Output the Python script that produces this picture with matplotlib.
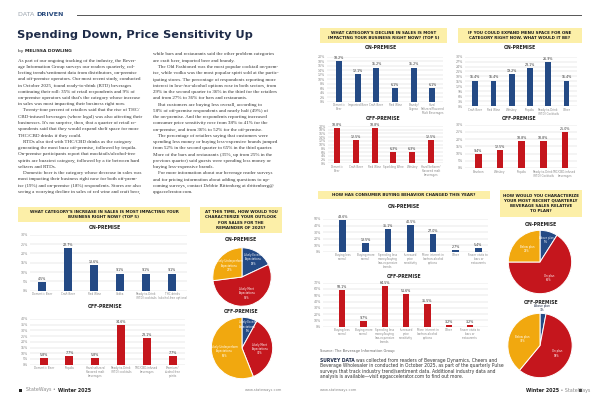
import numpy as np
import matplotlib.pyplot as plt
from matplotlib.patches import Rectangle

W, H = 600, 403
NAVY = '#244a85'
RED = '#c5161d'
GOLD = '#f1a80f'
BOX = '#fcefa8'
INK = '#1e2b48'

# --- chart data -------------------------------------------------------------
# category whose increase in sales is most impacting business (top 5)
inc_on_cats = ['Domestic Beer', 'Craft Beer', 'Red Wine', 'Vodka',
               'Ready-to-Drink\n(RTD) cocktails', 'THC drinks\n(alcohol-free options)']
inc_on_vals = [4.5, 22.7, 13.6, 9.1, 9.1, 9.1]
inc_off_cats = ['Domestic Beer', 'Tequila', 'Hard seltzers/\nflavored malt\nbeverages',
                'Ready-to-Drink\n(RTD) cocktails', 'THC/CBD-infused\nbeverages',
                'Premium/\nalcohol-free\nspirits']
inc_off_vals = [5.8, 7.7, 5.8, 34.6, 23.1, 7.7]

# category whose decline in sales is most impacting business (top 5)
dec_on_cats = ['Domestic\nBeer', 'Imported Beer', 'Craft Beer', 'Red Wine',
               'Brandy/\nCognac', 'Hard\nSeltzers/Flavored\nMalt Beverages']
dec_on_vals = [18.2, 12.1, 15.2, 6.1, 15.2, 6.1]
dec_off_cats = ['Domestic\nBeer', 'Craft Beer', 'Red Wine', 'Sparkling Wine',
                'Whiskey', 'Hard Seltzers/\nflavored malt\nbeverages']
dec_off_vals = [18.8, 12.5, 18.8, 6.3, 6.3, 12.5]

# expand menu space for one category
exp_on_cats = ['Craft Beer', 'Red Wine', 'Whiskey', 'Tequila',
               'Ready-to-Drink\n(RTD) Cocktails', 'Other']
exp_on_vals = [15.4, 15.4, 19.2, 23.1, 26.9, 15.4]
exp_off_cats = ['Bourbon', 'Whiskey', 'Tequila', 'Ready-to-Drink\n(RTD) Cocktails',
                'THC/CBD-infused\nbeverages']
exp_off_vals = [9.4, 12.5, 18.8, 18.8, 25.0]

# consumer buying behavior this year
beh_cats = ['Buying less\noverall', 'Buying more\noverall',
            'Spending less\nmoney/buying\nless-expensive\nbrands',
            'Increased\nprice\nsensitivity', 'More interest in\nlow/non-alcohol\noptions',
            'Other', 'Fewer visits to\nbars or\nrestaurants']
beh_on_vals = [48.6, 13.5, 35.1, 40.5, 27.0, 2.7, 5.4]
beh_off_vals = [58.1, 9.7, 64.5, 51.6, 35.5, 3.2, 3.2]

# pies
outlook_names = ['Likely Exceed\nExpectations', 'Likely Meet\nExpectations',
                 'Likely Underperform\nExpectations']
outlook_on = [18, 55, 27]
outlook_off = [8, 36, 56]
plan_names = ['Above plan', 'On plan', 'Below plan']
plan_on = [9, 66, 25]
plan_off = [3, 58, 39]

# --- article text -----------------------------------------------------------
left_col = [
    "As part of our ongoing tracking of the industry, the Bever-",
    "age Information Group surveys our readers quarterly, col-",
    "lecting trends/sentiment data from distributors, on-premise",
    "and off-premise operators. Our most recent study, conducted",
    "in October 2025, found ready-to-drink (RTD) beverages",
    "continuing their roll: 35% of retail respondents and 9% of",
    "on-premise operators said that's the category whose increase",
    "in sales was most impacting their business right now.",
    "    Twenty-four percent of retailers said that the rise of THC/",
    "CBD-infused beverages (where legal) was also affecting their",
    "businesses. It's no surprise, then, that a quarter of retail re-",
    "spondents said that they would expand shelf space for more",
    "THC/CBD drinks if they could.",
    "    RTDs also tied with THC/CBD drinks as the category",
    "generating the most buzz off-premise, followed by tequila.",
    "On-premise participants report that mocktails/alcohol-free",
    "spirits are buzziest category, followed by a tie between hard",
    "seltzers and RTDs.",
    "    Domestic beer is the category whose decrease in sales was",
    "most impacting their business right now for both off-prem-",
    "ise (19%) and on-premise (18%) respondents. Stores are also",
    "seeing a worrying decline in sales of red wine and craft beer,",
]
right_col = [
    "while bars and restaurants said the other problem categories",
    "are craft beer, imported beer and brandy.",
    "    The Old Fashioned was the most popular cocktail on-prem-",
    "ise, while vodka was the most popular spirit sold at the partic-",
    "ipating stores. The percentage of respondents reporting more",
    "interest in low-/no-alcohol options rose in both sectors, from",
    "29% in the second quarter to 36% in the third for the retailers",
    "and from 27% to 36% for bars and restaurants.",
    "    But customers are buying less overall, according to",
    "58% of off-premise respondents and nearly half (49%) of",
    "the on-premise. And the respondents reporting increased",
    "consumer price sensitivity rose from 38% to 41% for the",
    "on-premise, and from 36% to 52% for the off-premise.",
    "    The percentage of retailers saying that customers were",
    "spending less money or buying less-expensive brands jumped",
    "from 52% in the second quarter to 65% in the third quarter.",
    "More of the bars and restaurants (35%, up from 25% in the",
    "previous quarter) said guests were spending less money or",
    "buying less-expensive brands.",
    "    For more information about our beverage reader surveys",
    "and for pricing information about adding questions to up-",
    "coming surveys, contact Debbie Rittenberg at drittenberg@",
    "epgaccelerator.com.",
]
survey_lines = [
    "was collected from readers of Beverage Dynamics, Cheers and",
    "Beverage Wholesaler in conducted in October 2025, as part of the quarterly Pulse",
    "surveys that track industry trend/sentiment data. Additional industry data and",
    "analysis is available\u2014visit epgaccelerator.com to find out more.",
]

fig = plt.figure(figsize=(6, 4.03), dpi=100)
bg = fig.add_axes([0, 0, 1, 1])
bg.set_xlim(0, W)
bg.set_ylim(H, 0)
bg.axis('off')


def box(x0, y0, x1, y1, text):
    bg.add_patch(Rectangle((x0, y0), x1 - x0, y1 - y0, color=BOX, lw=0))
    bg.text((x0 + x1) / 2, (y0 + y1) / 2, text, ha='center', va='center',
            fontsize=2.9, fontweight='bold', color='#1c1c1c', linespacing=1.4)


def sub(x, y, s):
    bg.text(x, y, s, ha='center', va='center', fontsize=3.3,
            fontweight='bold', color='#222')


def bars(px, vals, cats, color, ymax, step, xlim, width=0.31):
    x0, y0, x1, y1 = px
    ax = fig.add_axes([x0 / W, 1 - y1 / H, (x1 - x0) / W, (y1 - y0) / H])
    pos = np.arange(len(vals))
    ax.bar(pos, vals, width, color=color, zorder=3)
    ax.set_xlim(*xlim)
    ax.set_ylim(0, ymax)
    ticks = np.arange(0, ymax + 0.01, step)
    ax.set_yticks(ticks, [f'{t:g}%' for t in ticks])
    ax.set_xticks(pos, cats)
    ax.grid(axis='y', color='#d2d2d2', lw=0.35, zorder=0)
    for s in ax.spines.values():
        s.set_visible(False)
    ax.tick_params(axis='y', length=0, labelsize=2.3, labelcolor='#888', pad=1.5)
    ax.tick_params(axis='x', length=0, labelsize=2.0, labelcolor='#888', pad=1.2)
    for lab in ax.get_xticklabels():
        lab.set_linespacing(1.0)
    for p, v in zip(pos, vals):
        ax.text(p, v + ymax * 0.025, f'{v:.1f}%', ha='center', va='bottom',
                fontsize=2.3, color='#333')
    return ax


def pie(cx, cy, r, vals, names):
    ax = fig.add_axes([(cx - r) / W, 1 - (cy + r) / H, 2 * r / W, 2 * r / H])
    wedges, _ = ax.pie(vals, colors=[NAVY, RED, GOLD], startangle=90,
                       counterclock=False,
                       wedgeprops=dict(edgecolor='white', linewidth=0.7))
    ax.set_xlim(-1.01, 1.01)
    ax.set_ylim(-1.01, 1.01)
    for w, v, n in zip(wedges, vals, names):
        a = np.deg2rad((w.theta1 + w.theta2) / 2)
        if v < 5:
            ax.text(0.05, 1.04, f'{n}\n{v}%', ha='center', va='bottom',
                    fontsize=2.1, color=INK, clip_on=False, linespacing=1.1)
        else:
            d = 0.72 if v < 20 else 0.58
            ax.text(d * np.cos(a), d * np.sin(a), f'{n}\n{v}%',
                    ha='center', va='center', fontsize=1.9, color='white',
                    linespacing=1.1)
    return ax


# --- header ---------------------------------------------------------------
t = bg.text(18, 14.5, 'DATA ', fontsize=4.6, color='#9aa3ad', va='center')
bg.annotate('DRIVEN', xy=(1, 0), xycoords=t, va='bottom', fontsize=4.6,
            color='#2b4c7e', fontweight='bold')
bg.plot([77, 581], [14.5, 14.5], color='#555', lw=0.7)
bg.text(17, 35, 'Spending Down, Price Sensitivity Up', fontsize=8.2,
        fontweight='heavy', color=INK, va='center')
t = bg.text(18, 51, 'by ', fontsize=3.2, color='#222', va='center')
bg.annotate('MELISSA DOWLING', xy=(1, 0), xycoords=t, va='bottom',
            fontsize=3.2, color='#222', fontweight='bold')

for i, line in enumerate(left_col):
    bg.text(18, 60.5 + i * 6.25, line, fontsize=3.6, family='Liberation Serif',
            color='#333', va='center')
for i, line in enumerate(right_col):
    bg.text(153, 54.5 + i * 6.25, line, fontsize=3.6, family='Liberation Serif',
            color='#333', va='center')

# --- left page charts ---------------------------------------------------------
box(18, 206.7, 190, 221.7,
    "WHAT CATEGORY'S INCREASE IN SALES IS MOST IMPACTING YOUR\nBUSINESS RIGHT NOW? (TOP 5)")
sub(105, 227.7, 'ON-PREMISE')
bars((30, 234.7, 187, 290.7), inc_on_vals, inc_on_cats, NAVY, 30, 5, (-0.47, 5.57))
sub(105, 307, 'OFF-PREMISE')
bars((30, 319, 185, 364.7), inc_off_vals, inc_off_cats, RED, 40, 5, (-0.53, 5.48))

box(200, 206.7, 282, 233.3,
    "AT THIS TIME, HOW WOULD YOU\nCHARACTERIZE YOUR OUTLOOK\nFOR SALES FOR THE\nREMAINDER OF 2025?")
sub(241, 239.5, 'ON-PREMISE')
pie(242, 277, 29.5, outlook_on, outlook_names)
sub(241, 311.7, 'OFF-PREMISE')
pie(242, 348, 31, outlook_off, outlook_names)

bg.add_patch(Rectangle((18.5, 388.5), 3, 3, color='#222', lw=0))
t = bg.text(26.5, 390, 'StateWays \u2022 ', fontsize=3.4, color='#888', va='center')
bg.annotate('Winter 2025', xy=(1, 0), xycoords=t, va='bottom', fontsize=3.4,
            color='#222', fontweight='bold')
bg.text(282, 390, 'www.stateways.com', fontsize=2.6, color='#888', va='center', ha='right')

# --- right page charts --------------------------------------------------------
box(320, 28.3, 446.7, 42.7,
    "WHAT CATEGORY'S DECLINE IN SALES IS MOST\nIMPACTING YOUR BUSINESS RIGHT NOW? (TOP 5)")
sub(381, 47.7, 'ON-PREMISE')
bars((326.7, 56.7, 443.3, 101.7), dec_on_vals, dec_on_cats, NAVY, 20, 2, (-0.66, 5.58), 0.32)
sub(383, 118.3, 'OFF-PREMISE')
bars((328, 126, 443, 163.3), dec_off_vals, dec_off_cats, RED, 20, 2, (-0.48, 5.64), 0.32)

box(458, 28.3, 582, 42.7,
    "IF YOU COULD EXPAND MENU SPACE FOR ONE\nCATEGORY RIGHT NOW, WHAT WOULD IT BE?")
sub(520, 47.7, 'ON-PREMISE')
bars((465, 56.7, 576.7, 106), exp_on_vals, exp_on_cats, NAVY, 30, 3, (-0.55, 5.55))
sub(519.3, 118.3, 'OFF-PREMISE')
bars((465, 124.7, 576.7, 168), exp_off_vals, exp_off_cats, RED, 30, 5, (-0.61, 4.54))

box(318, 190.7, 490, 199.3, "HOW HAS CONSUMER BUYING BEHAVIOR CHANGED THIS YEAR?")
sub(404, 206, 'ON-PREMISE')
bars((323.3, 219, 488, 251.7), beh_on_vals, beh_cats, NAVY, 50, 10, (-0.86, 6.43), 0.3)
sub(404, 276, 'OFF-PREMISE')
bars((323.3, 282.7, 488, 326.7), beh_off_vals, beh_cats, RED, 70, 10, (-0.89, 6.84), 0.3)

bg.text(320, 350.7, 'Source: The Beverage Information Group', fontsize=2.6,
        color='#666', va='center')
t = bg.text(320, 360.7, 'SURVEY DATA ', fontsize=3.25, color=INK,
            fontweight='bold', va='center')
bg.annotate(survey_lines[0], xy=(1, 0), xycoords=t, va='bottom', fontsize=3.25, color='#333')
for i, line in enumerate(survey_lines[1:]):
    bg.text(320, 366 + i * 5.3, line, fontsize=3.25, color='#333', va='center')
bg.text(320, 390, 'www.stateways.com', fontsize=2.6, color='#888', va='center')

box(500, 190, 581.7, 216.7,
    "HOW WOULD YOU CHARACTERIZE\nYOUR MOST RECENT QUARTERLY\nBEVERAGE SALES RELATIVE\nTO PLAN?")
sub(541, 225, 'ON-PREMISE')
pie(540, 262, 32, plan_on, plan_names)
sub(541, 302.3, 'OFF-PREMISE')
pie(540, 345.5, 32.5, plan_off, plan_names)

t = bg.text(526, 390.5, 'Winter 2025', fontsize=3.4, color='#222',
            fontweight='bold', va='center')
bg.annotate(' \u2022 StateWays', xy=(1, 0), xycoords=t, va='bottom',
            fontsize=3.4, color='#888')
bg.add_patch(Rectangle((578.5, 389), 3, 3, color='#222', lw=0))

fig.savefig('out.png', dpi=100, facecolor='white')
